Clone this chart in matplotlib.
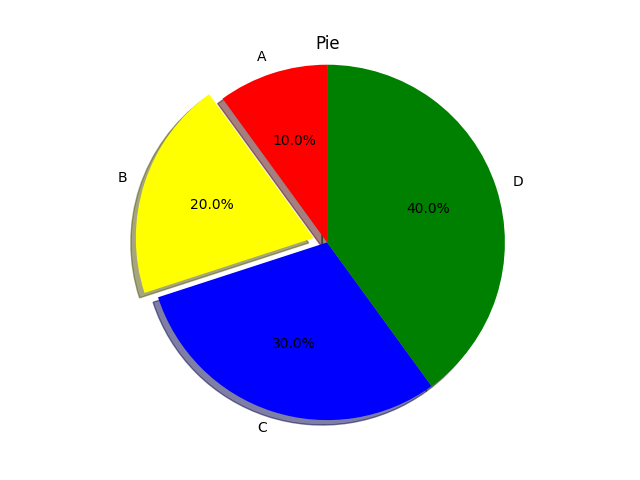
import matplotlib
matplotlib.use("Agg")
import matplotlib.pyplot as plt

labels = ["A", "B", "C", "D"]
sizes = [10, 20, 30, 40]
colors = ["red", "yellow", "blue", "green"]
explode = [0, 0.08, 0, 0]

fig, ax = plt.subplots(figsize=(6.4, 4.8), dpi=100)
ax.pie(sizes, explode=explode, labels=labels, colors=colors,
       autopct="%1.1f%%", shadow=True, startangle=90)
ax.set_aspect("equal", adjustable="datalim")
ax.set_xlim(-1.39, 1.40)
ax.set_ylim(-1.04, 1.04)
ax.set_title("Pie")
fig.savefig("out.png")
